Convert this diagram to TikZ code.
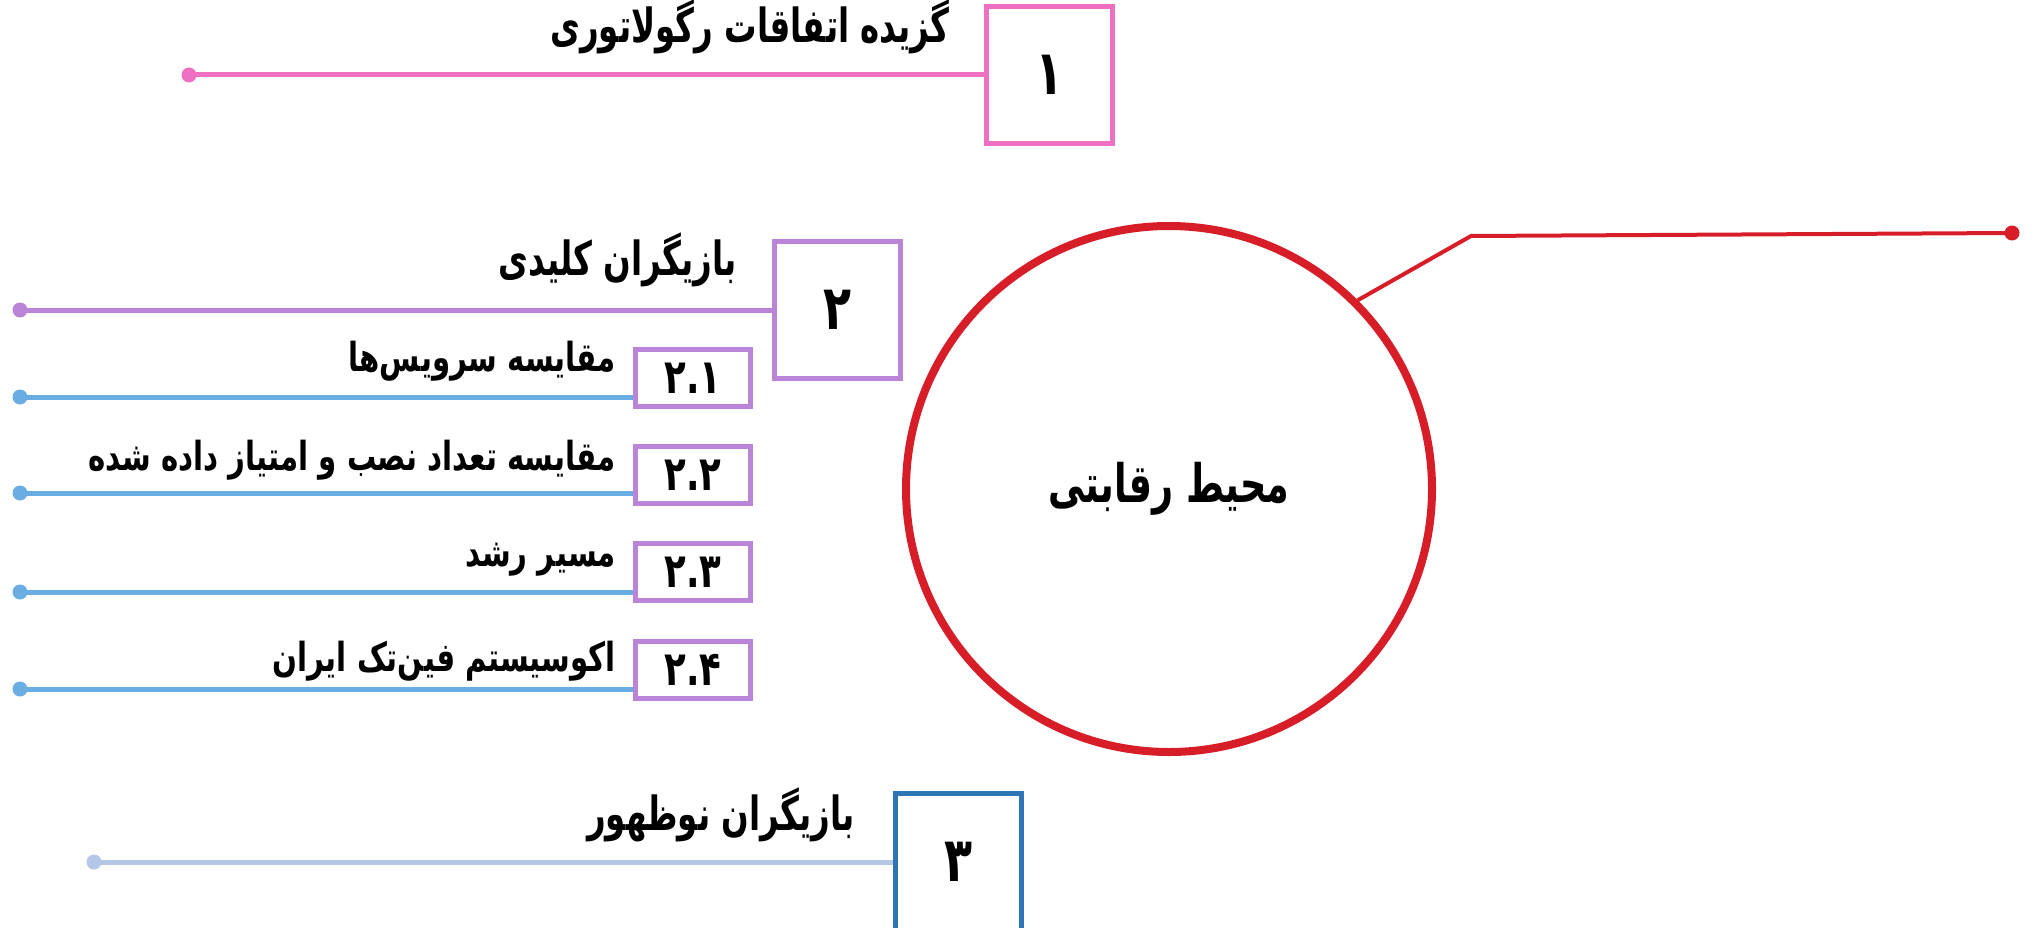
\documentclass[tikz,border=0pt]{standalone}
\usepackage{fontspec}
\usepackage{xcolor}
\usepackage{tikz}
\usetikzlibrary{positioning}
\TeXXeTstate=1
\newfontfamily\fahead[Script=Arabic,FakeStretch=0.69]{DejaVu Sans Bold}
\newfontfamily\fasub[Script=Arabic,FakeStretch=0.73]{DejaVu Sans Bold}
\newfontfamily\fanum[Script=Arabic,FakeStretch=0.74]{DejaVu Sans Bold}
\definecolor{pinkc}{HTML}{EF6FC2}
\definecolor{purplec}{HTML}{BA85D6}
\definecolor{bluec}{HTML}{6AADE2}
\definecolor{darkbluec}{HTML}{2E75B6}
\definecolor{palebluec}{HTML}{B4C7E7}
\definecolor{redc}{HTML}{D71E28}
\tikzstyle{numbox} = [draw, line width=5pt, fill=white, rectangle,
minimum width=126pt, minimum height=137pt, inner sep=0pt,
font=\fanum\fontsize{62}{66}\selectfont]
\tikzstyle{subbox} = [draw=purplec, line width=5pt, fill=white, rectangle,
minimum width=115pt, minimum height=57pt, inner sep=0pt,
font=\fanum\fontsize{48}{52}\selectfont]
\tikzstyle{headtext} = [anchor=base east, inner sep=0pt,
font=\fahead\fontsize{47}{50}\selectfont]
\tikzstyle{subtext} = [anchor=base east, inner sep=0pt,
font=\fasub\fontsize{40}{44}\selectfont]
\tikzstyle{enddot} = [circle, inner sep=0pt, minimum size=15pt]
\tikzstyle{link} = [line width=5pt]

\begin{document}
\begin{tikzpicture}[x=1pt, y=-1pt]
    \useasboundingbox (0,0) rectangle (2033,928);
    \clip (0,0) rectangle (2033,928);
    % centre
    \node [circle, draw=redc, line width=8pt, minimum size=526pt, inner sep=0pt,
    font=\fahead\fontsize{53}{56}\selectfont] (env) at (1169,489) {\beginR محیط رقابتی\endR};
    \coordinate (bend) at (1471,236);
    \node [enddot, fill=redc] (dotr) at (2012,233) {};
    \draw [redc, line width=4pt] (env.45) -- (bend) -- (dotr.center);

    % 1
    \node [numbox, draw=pinkc] (box1) at (1049,75) {۱};
    \node [enddot, fill=pinkc] (dot1) at (189,75) {};
    \draw [link, pinkc] (dot1.center) -- (box1.west);
    \node [headtext] (head1) at (950,43) {\beginR گزیده اتفاقات رگولاتوری\endR};

    % 2
    \node [numbox, draw=purplec] (box2) at (837,310) {۲};
    \node [enddot, fill=purplec] (dot2) at (20,310) {};
    \draw [link, purplec] (dot2.center) -- (box2.west);
    \node [headtext] (head2) at (737,275) {\beginR بازیگران کلیدی\endR};

    \node [subbox] (box21) at (693,378) {۲.۱};
    \node [enddot, fill=bluec] (dot21) at (20,397) {};
    \draw [link, bluec] (dot21.center) -- (dot21 -| box21.west);
    \node [subtext] (text21) at (616,371) {\beginR مقایسه سرویس‌ها\endR};

    \node [subbox] (box22) at (693,475) {۲.۲};
    \node [enddot, fill=bluec] (dot22) at (20,493) {};
    \draw [link, bluec] (dot22.center) -- (dot22 -| box22.west);
    \node [subtext] (text22) at (616,470) {\beginR مقایسه تعداد نصب و امتیاز داده شده\endR};

    \node [subbox] (box23) at (693,572) {۲.۳};
    \node [enddot, fill=bluec] (dot23) at (20,592) {};
    \draw [link, bluec] (dot23.center) -- (dot23 -| box23.west);
    \node [subtext] (text23) at (616,566) {\beginR مسیر رشد\endR};

    \node [subbox] (box24) at (693,670) {۲.۴};
    \node [enddot, fill=bluec] (dot24) at (20,689) {};
    \draw [link, bluec] (dot24.center) -- (dot24 -| box24.west);
    \node [subtext] (text24) at (616,671) {\beginR اکوسیستم فین‌تک ایران\endR};

    % 3
    \node [numbox, draw=darkbluec] (box3) at (958,862) {۳};
    \node [enddot, fill=palebluec] (dot3) at (94,862) {};
    \draw [link, palebluec] (dot3.center) -- (box3.west);
    \node [headtext] (head3) at (855,830) {\beginR بازیگران نوظهور\endR};
\end{tikzpicture}
\end{document}
